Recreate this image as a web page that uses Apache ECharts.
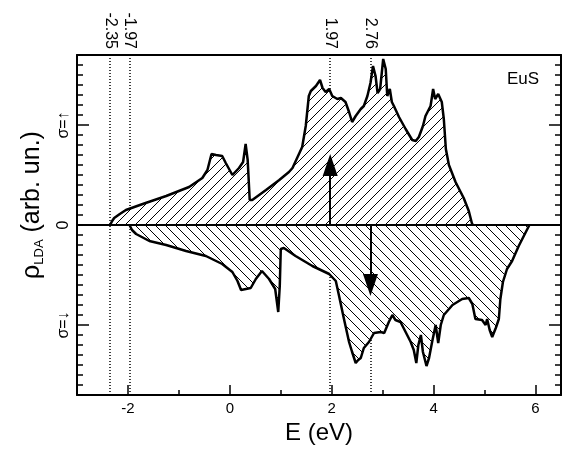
<!DOCTYPE html>
<html>
<head>
<meta charset="utf-8">
<script src="https://cdn.jsdelivr.net/npm/echarts@6.0.0/dist/echarts.min.js"></script>
<style>
html, body { margin: 0; padding: 0; background: #fff; }
#chart { width: 566px; height: 449px; }
</style>
</head>
<body>
<div id="chart"></div>
<script>
// spin-up DOS
const upEnergy = [-2.35, -2.31, -2.27, -2.16, -2.04, -1.71, -1.25, -0.80, -0.54, -0.44, -0.36, -0.27, -0.15, -0.08,
  0.05, 0.18, 0.26, 0.31, 0.35, 0.39, 0.44, 0.71, 0.97, 1.16, 1.23, 1.42, 1.49, 1.55, 1.59, 1.69, 1.77, 1.82,
  1.88, 1.95, 2.01, 2.11, 2.18, 2.27, 2.34, 2.40, 2.47, 2.57, 2.63, 2.70, 2.76, 2.81, 2.86, 2.90, 2.95, 3.01,
  3.06, 3.09, 3.14, 3.18, 3.22, 3.32, 3.45, 3.58, 3.65, 3.71, 3.79, 3.84, 3.94, 3.99, 4.03, 4.09, 4.16, 4.20,
  4.24, 4.30, 4.43, 4.59, 4.69, 4.75, 4.77]
const upDos = [0, 0.04, 0.07, 0.11, 0.15, 0.21, 0.29, 0.38, 0.47, 0.55, 0.71, 0.70, 0.69, 0.62,
  0.50, 0.57, 0.63, 0.81, 0.65, 0.25, 0.25, 0.35, 0.45, 0.53, 0.57, 0.78, 0.99, 1.29, 1.34, 1.39, 1.45, 1.37,
  1.33, 1.36, 1.29, 1.26, 1.27, 1.23, 1.13, 1.03, 1.09, 1.16, 1.19, 1.29, 1.42, 1.59, 1.49, 1.32, 1.36, 1.66,
  1.56, 1.29, 1.36, 1.23, 1.19, 1.08, 0.96, 0.85, 0.84, 0.88, 0.99, 1.09, 1.19, 1.36, 1.26, 1.31, 1.23, 1.06,
  0.76, 0.60, 0.43, 0.27, 0.14, 0.02, 0]

// spin-down DOS
const downEnergy = [-1.97, -1.92, -1.84, -1.58, -1.25, -0.86, -0.47, -0.15, 0.05, 0.15, 0.22, 0.41, 0.51, 0.63,
  0.77, 0.89, 0.95, 0.98, 1.00, 1.06, 1.29, 1.62, 1.95, 2.08, 2.14, 2.24, 2.34, 2.40, 2.47, 2.52, 2.57, 2.63,
  2.73, 2.83, 2.96, 3.03, 3.12, 3.19, 3.25, 3.35, 3.45, 3.55, 3.61, 3.66, 3.70, 3.75, 3.79, 3.86, 3.91, 3.97,
  4.04, 4.09, 4.14, 4.20, 4.37, 4.56, 4.69, 4.76, 4.82, 4.95, 5.02, 5.05, 5.10, 5.15, 5.22, 5.28, 5.31, 5.36,
  5.44, 5.54, 5.67, 5.80, 5.88]
const downDos = [0, -0.05, -0.09, -0.16, -0.20, -0.26, -0.31, -0.39, -0.47, -0.56, -0.65, -0.63, -0.54, -0.46,
  -0.54, -0.64, -0.87, -0.61, -0.24, -0.23, -0.31, -0.41, -0.49, -0.56, -0.70, -0.94, -1.17, -1.27, -1.38, -1.35, -1.33, -1.23,
  -1.17, -1.08, -1.07, -1.08, -0.97, -0.90, -0.95, -0.97, -1.07, -1.17, -1.25, -1.38, -1.20, -1.10, -1.27, -1.41, -1.33, -1.17,
  -1.00, -1.18, -1.00, -0.90, -0.80, -0.74, -0.73, -0.79, -0.94, -0.95, -1.00, -0.94, -1.05, -1.12, -1.03, -0.94, -0.74, -0.57,
  -0.44, -0.36, -0.21, -0.08, 0]

// dotted marker energies (top labels)
const markEnergy = [-2.35, -1.97, 1.97, 2.76]
const markLabels = ['-2.35', '-1.97', '1.97', '2.76']
// spin arrows: x position and length
const arrowEnergy = [1.97, 2.76]
const arrowEnd = [0.6, -0.6]

const xMajorTicks = [-2, 0, 2, 4, 6]
const yMajorTicks = [-1, 1]
const yTickValues = [-1, 0, 1]
const yTickLabels = ['σ=↓', '0', 'σ=↑']

const FONT = 'Liberation Sans, Arial, Helvetica, sans-serif'

function hatch(up) {
  const s = 10
  const c = document.createElement('canvas')
  c.width = s
  c.height = s
  const ctx = c.getContext('2d')
  ctx.fillStyle = '#fff'
  ctx.fillRect(0, 0, s, s)
  ctx.strokeStyle = '#000'
  ctx.lineWidth = 1
  ctx.beginPath()
  if (up) {
    ctx.moveTo(0, s); ctx.lineTo(s, 0)
    ctx.moveTo(-1, 1); ctx.lineTo(1, -1)
    ctx.moveTo(s - 1, s + 1); ctx.lineTo(s + 1, s - 1)
  } else {
    ctx.moveTo(0, 0); ctx.lineTo(s, s)
    ctx.moveTo(-1, s - 1); ctx.lineTo(1, s + 1)
    ctx.moveTo(s - 1, -1); ctx.lineTo(s + 1, 1)
  }
  ctx.stroke()
  return { image: c, repeat: 'repeat' }
}

const blackLine = { show: true, onZero: false, lineStyle: { color: '#000', width: 2 } }
const noLine = { show: false, onZero: false }

function yAxis(pos, major) {
  return {
    type: 'value',
    position: pos,
    min: -1.7,
    max: 1.7,
    interval: 0.1,
    axisLine: major ? noLine : blackLine,
    axisTick: major
      ? { show: true, inside: true, length: 12, customValues: yMajorTicks, lineStyle: { color: '#000', width: 1.5 } }
      : { show: true, inside: true, length: 6, lineStyle: { color: '#000', width: 1.5 } },
    axisLabel: { show: false },
    splitLine: { show: false }
  }
}

const chart = echarts.init(document.getElementById('chart'))
chart.setOption({
  animation: false,
  backgroundColor: '#fff',
  grid: { left: 77, right: 5, top: 55, bottom: 54, containLabel: false, outerBoundsMode: 'none' },
  xAxis: [{
    type: 'value', position: 'bottom', min: -3, max: 6.5, interval: 1,
    axisLine: blackLine,
    axisTick: { show: true, inside: true, length: 5, lineStyle: { color: '#000', width: 1.5 } },
    axisLabel: {
      show: true, customValues: xMajorTicks, margin: 6, color: '#000', fontSize: 15, fontFamily: FONT
    },
    splitLine: { show: false },
    name: 'E (eV)', nameLocation: 'middle', nameGap: 24,
    nameTextStyle: { color: '#000', fontSize: 24, fontFamily: FONT }
  }, {
    type: 'value', position: 'bottom', min: -3, max: 6.5, interval: 1,
    axisLine: noLine,
    axisTick: { show: true, inside: true, length: 10, customValues: xMajorTicks, lineStyle: { color: '#000', width: 1.5 } },
    axisLabel: { show: false },
    splitLine: { show: false }
  }, {
    type: 'value', position: 'top', min: -3, max: 6.5, interval: 1,
    axisLine: blackLine,
    axisTick: { show: false },
    axisLabel: {
      show: true, customValues: markEnergy, rotate: 90, margin: 6, color: '#000', fontSize: 16, fontFamily: FONT,
      formatter: v => markLabels[markEnergy.indexOf(v)]
    },
    splitLine: { show: false }
  }],
  yAxis: [
    Object.assign(yAxis('left', false), {
      name: '{a|ρ}{b|LDA}{a| (arb. un.)}', nameLocation: 'middle', nameGap: 31, nameRotate: 90,
      nameTextStyle: {
        color: '#000', padding: [0, 0, 0, 40],
        rich: {
          a: { fontSize: 25, fontFamily: FONT, color: '#000', lineHeight: 27 },
          b: { fontSize: 13, fontFamily: FONT, color: '#000', verticalAlign: 'bottom', lineHeight: 14 }
        }
      }
    }),
    yAxis('left', true),
    yAxis('right', false),
    yAxis('right', true)
  ],
  series: [{
    type: 'line', data: [], z: 1,
    markLine: {
      silent: true, symbol: 'none', z: 1, label: { show: false },
      lineStyle: { color: '#000', width: 1.5, type: [1, 2] },
      data: markEnergy.map(e => ({ xAxis: e }))
    }
  }, {
    name: 'up', type: 'line', z: 10, symbol: 'none', showSymbol: false,
    data: upEnergy.map((e, i) => [e, upDos[i]]),
    lineStyle: { color: '#000', width: 2.5 },
    areaStyle: { color: hatch(true), opacity: 1 }
  }, {
    name: 'down', type: 'line', z: 10, symbol: 'none', showSymbol: false,
    data: downEnergy.map((e, i) => [e, downDos[i]]),
    lineStyle: { color: '#000', width: 2.5 },
    areaStyle: { color: hatch(false), opacity: 1 }
  }, {
    type: 'line', data: [], z: 20,
    markLine: {
      silent: true, z: 20, symbol: 'none', label: { show: false },
      lineStyle: { color: '#000', width: 2, type: 'solid' },
      data: [
        [{ coord: [-3, 0] }, { coord: [6.5, 0] }]
      ].concat(arrowEnergy.map((e, i) => [
        { coord: [e, 0], symbol: 'none' },
        { coord: [e, arrowEnd[i]], symbol: 'triangle', symbolSize: [15, 22] }
      ]))
    }
  }]
})

// y tick labels (spin directions) placed through the chart's own y scale
const yLabelX = 77 - 5
chart.setOption({
  graphic: [{
    type: 'text', left: 507, top: 71,
    style: { text: 'EuS', fontSize: 17, fontFamily: FONT, fill: '#000' }
  }].concat(yTickValues.map((v, i) => {
    const p = chart.convertToPixel({ yAxisIndex: 0 }, v)
    return {
      type: 'text', x: yLabelX, y: p, rotation: Math.PI / 2,
      style: {
        text: yTickLabels[i], fontSize: 16, fontFamily: FONT, fill: '#000',
        align: 'center', verticalAlign: 'bottom'
      }
    }
  }))
})
</script>
</body>
</html>
